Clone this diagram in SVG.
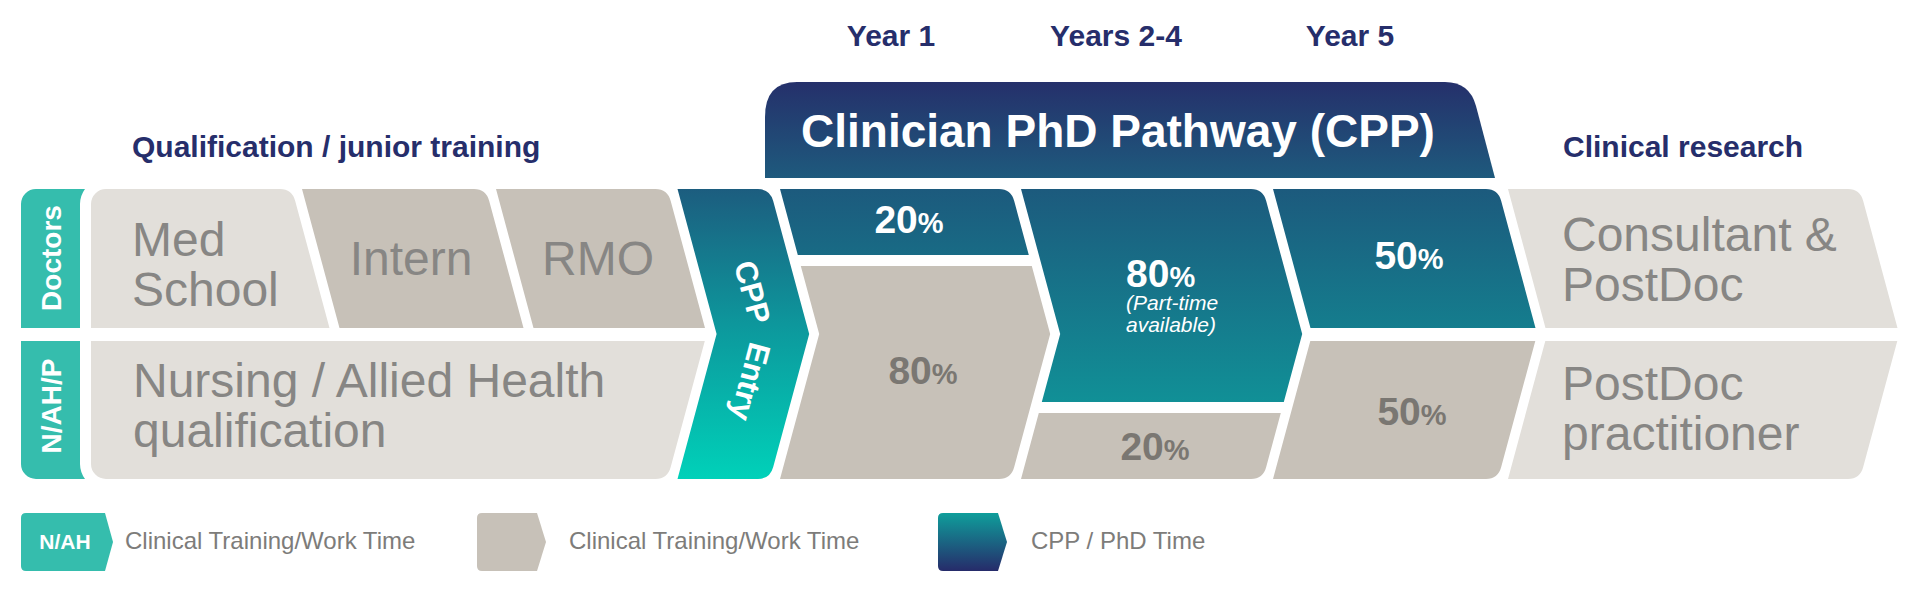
<svg xmlns="http://www.w3.org/2000/svg" width="1920" height="590" viewBox="0 0 1920 590">
<defs>
<linearGradient id="gTeal" gradientUnits="userSpaceOnUse" x1="0" y1="189" x2="0" y2="430">
<stop offset="0" stop-color="#1C5A7D"/><stop offset="1" stop-color="#0F979A"/>
</linearGradient>
<linearGradient id="gEntry" gradientUnits="userSpaceOnUse" x1="0" y1="189" x2="0" y2="479">
<stop offset="0" stop-color="#1C5D7F"/><stop offset="0.5" stop-color="#0C9B9E"/><stop offset="1" stop-color="#00D1B9"/>
</linearGradient>
<linearGradient id="gBanner" gradientUnits="userSpaceOnUse" x1="0" y1="82" x2="0" y2="178">
<stop offset="0" stop-color="#25306B"/><stop offset="1" stop-color="#1E5A7D"/>
</linearGradient>
<linearGradient id="gLegend" gradientUnits="userSpaceOnUse" x1="0" y1="513" x2="0" y2="571">
<stop offset="0" stop-color="#0F9E9B"/><stop offset="1" stop-color="#262B6A"/>
</linearGradient>
<style>
text{font-family:"Liberation Sans",Arial,sans-serif}
.head{font-size:30px;font-weight:bold;fill:#262E6B}
.light{fill:#E2DFDA}
.dark{fill:#C7C1B8}
.teal{fill:url(#gTeal)}
.tab{fill:#35BDAD}
.big{font-size:48px;fill:#878684}
.pw{font-size:39px;font-weight:bold;fill:#FFFFFF}
.pg{font-size:39px;font-weight:bold;fill:#7A7772}
.pc{font-size:29px}
.tabt{font-size:28px;font-weight:bold;fill:#FFFFFF}
.leg{font-size:24px;fill:#7D7C7A}
</style>
</defs>
<rect width="1920" height="590" fill="#FFFFFF"/>

<g id="headings">
<text class="head" x="891" y="46" text-anchor="middle">Year 1</text>
<text class="head" x="1116" y="46" text-anchor="middle">Years 2-4</text>
<text class="head" x="1350" y="46" text-anchor="middle">Year 5</text>
<text class="head" x="132" y="157">Qualification / junior training</text>
<text class="head" x="1563" y="157">Clinical research</text>
</g>

<g id="banner">
<path d="M765,178 L765,117 Q765,82 797,82 L1445,82 Q1469.5,82 1476,106 L1495,178 Z" fill="url(#gBanner)"/>
<text x="801" y="147" font-size="46" font-weight="bold" fill="#FFFFFF">Clinician PhD Pathway (CPP)</text>
</g>

<g id="tab-doctors">
<path class="tab" d="M21,204 A15,15 0 0 1 36,189 L85,189 A26,26 0 0 0 80,204 L80,328 L21,328 Z"/>
<text class="tabt" transform="translate(61,258) rotate(-90)" text-anchor="middle">Doctors</text>
</g>
<g id="tab-nahp">
<path class="tab" d="M21,341 L80,341 L80,464 A26,26 0 0 0 85,479 L36,479 A15,15 0 0 1 21,464 Z"/>
<text class="tabt" transform="translate(61,406) rotate(-90)" text-anchor="middle">N/AH/P</text>
</g>

<g id="med-school">
<path class="light" d="M91,204 A15,15 0 0 1 106,189 L280,189 Q292,189 295.2,201 L329.5,328 L91,328 Z"/>
<text class="big" x="132" y="256">Med</text>
<text class="big" x="132" y="306">School</text>
</g>
<g id="intern">
<path class="dark" d="M302,189 L474,189 Q486,189 489.2,201 L523.5,328 L339.5,328 Z"/>
<text class="big" x="411" y="275" text-anchor="middle">Intern</text>
</g>
<g id="rmo">
<path class="dark" d="M496,189 L655.5,189 Q667.5,189 670.7,201 L705,328 L533.5,328 Z"/>
<text class="big" x="598" y="275" text-anchor="middle">RMO</text>
</g>
<g id="nursing">
<path class="light" d="M91,341 L704.8,341 L670.7,467 Q667.5,479 655.5,479 L106,479 A15,15 0 0 1 91,464 Z"/>
<text class="big" x="133" y="397">Nursing / Allied Health</text>
<text class="big" x="133" y="447">qualification</text>
</g>

<g id="cpp-entry">
<path d="M677.5,189 L758,189 Q770,189 773.2,201 L809.2,334 L773.2,467 Q770,479 758,479 L677.5,479 L716.6,334 Z" fill="url(#gEntry)"/>
<text transform="translate(742,295) rotate(75)" text-anchor="middle" font-size="31" font-weight="bold" fill="#FFFFFF">CPP</text>
<text transform="translate(740,379) rotate(105)" text-anchor="middle" font-size="31" font-weight="bold" fill="#FFFFFF">Entry</text>
</g>

<g id="year1-cpp">
<path class="teal" d="M780,189 L999,189 Q1011,189 1014.2,201 L1028.8,255 L797.8,255 Z"/>
<text class="pw" x="909" y="233" text-anchor="middle">20<tspan class="pc">%</tspan></text>
</g>
<g id="year1-clinical">
<path class="dark" d="M800.8,266 L1031.8,266 L1050.2,334 L1014.2,467 Q1011,479 999,479 L780,479 L819.2,334 Z"/>
<text class="pg" x="923" y="384" text-anchor="middle">80<tspan class="pc">%</tspan></text>
</g>

<g id="years24-cpp">
<path class="teal" d="M1021,189 L1251,189 Q1263,189 1266.2,201 L1302.2,334 L1283.8,402 L1041.8,402 L1060.2,334 Z"/>
<text class="pw" x="1126" y="287">80<tspan class="pc">%</tspan></text>
<text x="1126" y="310" font-size="21" font-style="italic" fill="#FFFFFF">(Part-time</text>
<text x="1126" y="332" font-size="21" font-style="italic" fill="#FFFFFF">available)</text>
</g>
<g id="years24-clinical">
<path class="dark" d="M1038.8,413 L1280.8,413 L1266.2,467 Q1263,479 1251,479 L1021,479 Z"/>
<text class="pg" x="1155" y="460" text-anchor="middle">20<tspan class="pc">%</tspan></text>
</g>

<g id="year5-cpp">
<path class="teal" d="M1273,189 L1486,189 Q1498,189 1501.2,201 L1535.5,328 L1310.5,328 Z"/>
<text class="pw" x="1409" y="269" text-anchor="middle">50<tspan class="pc">%</tspan></text>
</g>
<g id="year5-clinical">
<path class="dark" d="M1310.3,341 L1535.3,341 L1501.2,467 Q1498,479 1486,479 L1273,479 Z"/>
<text class="pg" x="1412" y="425" text-anchor="middle">50<tspan class="pc">%</tspan></text>
</g>

<g id="consultant">
<path class="light" d="M1508,189 L1848,189 Q1860,189 1863.2,201 L1897.5,328 L1545.5,328 Z"/>
<text class="big" x="1562" y="251">Consultant &amp;</text>
<text class="big" x="1562" y="301">PostDoc</text>
</g>
<g id="postdoc-practitioner">
<path class="light" d="M1545.3,341 L1897.3,341 L1863.2,467 Q1860,479 1848,479 L1508,479 Z"/>
<text class="big" x="1562" y="400">PostDoc</text>
<text class="big" x="1562" y="450">practitioner</text>
</g>

<g id="connectors"/>

<g id="legend-nah">
<path class="tab" d="M26,513 L105,513 L113,542 L105,571 L26,571 Q21,571 21,566 L21,518 Q21,513 26,513 Z"/>
<text x="65" y="549" text-anchor="middle" font-size="21" font-weight="bold" fill="#FFFFFF">N/AH</text>
<text class="leg" x="125" y="549">Clinical Training/Work Time</text>
</g>
<g id="legend-clinical">
<path class="dark" d="M482,513 L537,513 L546,542 L537,571 L482,571 Q477,571 477,566 L477,518 Q477,513 482,513 Z"/>
<text class="leg" x="569" y="549">Clinical Training/Work Time</text>
</g>
<g id="legend-cpp">
<path d="M943,513 L998,513 L1007,542 L998,571 L943,571 Q938,571 938,566 L938,518 Q938,513 943,513 Z" fill="url(#gLegend)"/>
<text class="leg" x="1031" y="549">CPP / PhD Time</text>
</g>
</svg>
